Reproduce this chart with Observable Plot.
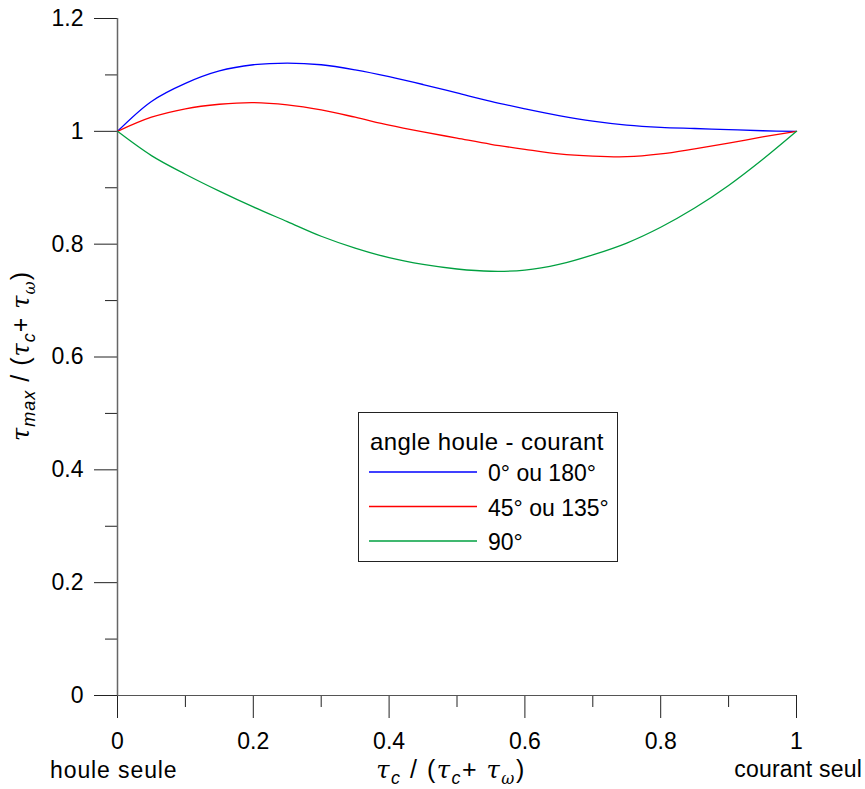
<!DOCTYPE html>
<html><head><meta charset="utf-8">
<script src="https://cdn.jsdelivr.net/npm/d3@7"></script>
<script src="https://cdn.jsdelivr.net/npm/@observablehq/plot@0.6"></script>
<style>
body{margin:0;background:#fff}
#chart{position:relative;width:865px;height:789px}
</style>
</head><body><div id="chart"></div>
<script>
// ---- data ----
const xValues = [0,0.05,0.1,0.15,0.2,0.25,0.3,0.35,0.4,0.45,0.5,0.55,0.6,0.65,0.7,0.75,0.8,0.85,0.9,0.95,1];
const blueValues  = [1.000,1.053,1.085,1.107,1.118,1.121,1.118,1.109,1.097,1.083,1.068,1.053,1.040,1.028,1.018,1.011,1.007,1.005,1.003,1.001,1.000];
const redValues   = [1.000,1.025,1.040,1.048,1.051,1.047,1.038,1.025,1.011,0.999,0.988,0.977,0.968,0.960,0.956,0.955,0.960,0.969,0.979,0.990,1.000];
const greenValues = [1.000,0.957,0.924,0.894,0.866,0.840,0.814,0.793,0.776,0.764,0.756,0.752,0.754,0.764,0.781,0.802,0.830,0.864,0.904,0.950,1.000];
const seriesNames = ["0° ou 180°","45° ou 135°","90°"];
const seriesColors = ["#0000ff","#ff0000","#00a040"];
const yMajorTicks = [0,0.2,0.4,0.6,0.8,1,1.2];
const yMinorTicks = [0.1,0.3,0.5,0.7,0.9,1.1];
const xMajorTicks = [0,0.2,0.4,0.6,0.8,1];
const xMinorTicks = [0.1,0.3,0.5,0.7,0.9];
const legendTitle = "angle houle - courant";
const xStartLabel = "houle seule";
const xEndLabel = "courant seul";

const seriesValues = [blueValues, redValues, greenValues];
const rows = [];
seriesValues.forEach((vals, i) => vals.forEach((v, j) => rows.push({x: xValues[j], y: v, s: seriesNames[i]})));

const FONT = "'Liberation Sans', Arial, sans-serif";
const GREEK = "'DejaVu Serif', serif";
const fmt = d3.format("~g");

const plot = Plot.plot({
  width: 865, height: 789,
  marginLeft: 117, marginRight: 69, marginTop: 18, marginBottom: 94,
  style: {fontFamily: FONT, fontSize: "23px", color: "#000", background: "#fff"},
  x: {domain: [0, 1]},
  y: {domain: [0, 1.2]},
  color: {domain: seriesNames, range: seriesColors},
  marks: [
    Plot.axisY(yMinorTicks, {tickSize: 12, fill: "none", label: null, stroke: "#222"}),
    Plot.axisY(yMajorTicks, {tickSize: 23, tickPadding: 11, tickFormat: fmt, label: null, fontSize: 23, stroke: "#222"}),
    Plot.axisX(xMinorTicks, {tickSize: 12, fill: "none", label: null, stroke: "#222"}),
    Plot.axisX(xMajorTicks, {tickSize: 23, tickPadding: 14, tickFormat: fmt, label: null, fontSize: 23, stroke: "#222"}),
    Plot.ruleX([0], {stroke: "#666", strokeWidth: 1.5}),
    Plot.ruleY([0], {stroke: "#555", strokeWidth: 1.2}),
    Plot.line(rows, {x: "x", y: "y", z: "s", stroke: "s", curve: "catmull-rom", strokeWidth: 1.3})
  ]
});
document.getElementById("chart").appendChild(plot);

const svg = d3.select(plot);

function plain(x, y, txt, size, anchor, ls) {
  return svg.append("text").attr("x", x).attr("y", y).attr("text-anchor", anchor || "start")
    .attr("font-family", FONT).attr("font-size", size).attr("letter-spacing", ls || 0).attr("fill", "#000").text(txt);
}
// end labels
plain(50, 778, xStartLabel, 23, "start", 0.9);
plain(862, 777, xEndLabel, 23, "end", 0.2);

// math labels: parts of {t, sub, greek}
function mathLabel(transform, parts, size) {
  const t = svg.append("text").attr("transform", transform).attr("text-anchor", "middle")
    .attr("font-family", FONT).attr("font-size", size).attr("fill", "#000");
  let shift = 0;
  parts.forEach(p => {
    const ts = t.append("tspan").text(p.t);
    const target = p.sub ? 6 : 0;
    if (target !== shift) { ts.attr("dy", target - shift); shift = target; }
    if (p.sub) ts.attr("font-size", Math.round(size * 0.7)).attr("font-style", "italic");
    if (p.greek) ts.attr("font-family", GREEK).attr("font-style", "italic").attr("font-size", p.sub ? Math.round(size * 0.62) : size - 1);
  });
  return t;
}
mathLabel("translate(451,778)", [
  {t: "τ", greek: true}, {t: "c", sub: true}, {t: " / ("}, {t: "τ", greek: true}, {t: "c", sub: true},
  {t: "+ "}, {t: "τ", greek: true}, {t: "ω", sub: true, greek: true}, {t: ")"}
], 25).attr("letter-spacing", 1.5);
mathLabel("translate(29,356) rotate(-90)", [
  {t: "τ", greek: true}, {t: "max", sub: true}, {t: " / ("}, {t: "τ", greek: true}, {t: "c", sub: true},
  {t: "+ "}, {t: "τ", greek: true}, {t: "ω", sub: true, greek: true}, {t: ")"}
], 25).attr("letter-spacing", 1);

// legend
const lg = svg.append("g");
lg.append("rect").attr("x", 358.5).attr("y", 412.5).attr("width", 259).attr("height", 149).attr("fill", "#fff").attr("stroke", "#222");
lg.append("text").attr("x", 370).attr("y", 450).attr("text-anchor", "start").attr("font-family", FONT).attr("font-size", 24).attr("letter-spacing", 0.4).attr("fill", "#000").text(legendTitle);
const items = lg.selectAll("g.item").data(seriesNames).join("g").attr("class", "item")
  .attr("transform", (d, i) => `translate(0,${472 + i * 34.5})`);
items.append("line").attr("x1", 369).attr("x2", 477).attr("y1", 0).attr("y2", 0)
  .attr("stroke", (d, i) => seriesColors[i]).attr("stroke-width", 1.3);
items.append("text").attr("x", 488).attr("y", 9).attr("text-anchor", "start").attr("font-family", FONT).attr("font-size", 23).attr("fill", "#000").text(d => d);
</script>
</body></html>
